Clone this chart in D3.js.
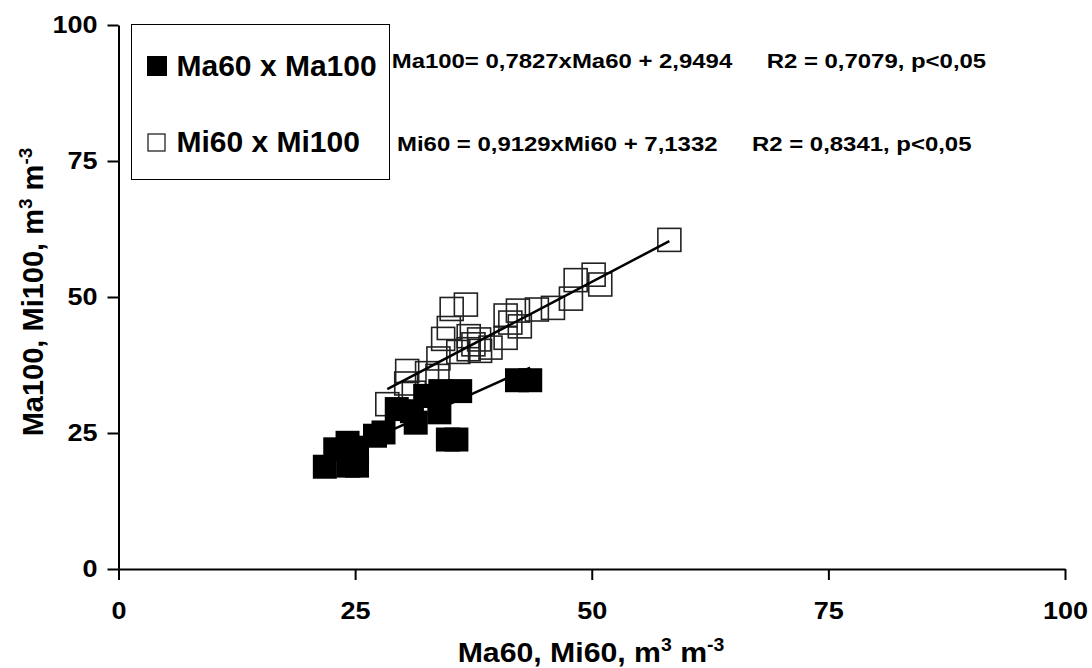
<!DOCTYPE html>
<html>
<head>
<meta charset="utf-8">
<script src="https://cdn.jsdelivr.net/npm/d3@7"></script>
<style>
  body { margin: 0; background: #fff; }
  svg text { font-family: "Liberation Sans", Arial, sans-serif; font-weight: bold; fill: #000; }
</style>
</head>
<body>
<div id="chart"></div>
<script>
// Ma60 x Ma100 (filled squares)
var ma60  = [21.8, 22.9, 24.2, 24.3, 24.8, 25.2, 25.2, 27.1, 28.0, 29.4, 31.0, 31.4, 32.4, 33.9, 34.0, 36.1, 34.8, 35.7, 42.1, 43.5];
var ma100 = [18.8, 22.0, 23.2, 19.0, 22.3, 21.4, 19.0, 24.5, 25.1, 29.4, 29.0, 26.9, 31.8, 28.8, 32.7, 32.7, 23.8, 23.8, 34.7, 34.7];

// Mi60 x Mi100 (open squares)
var mi60  = [58.2, 50.2, 48.3, 50.9, 47.8, 45.9, 44.2, 42.2, 42.4, 40.9, 41.4, 36.7, 35.2, 34.9, 34.3, 37.0, 38.1, 39.3, 40.9, 37.0, 35.9, 38.2, 33.8, 37.5, 30.5, 32.6, 30.4, 33.7, 28.4, 31.2];
var mi100 = [60.5, 54.1, 53.1, 52.3, 49.7, 48.0, 47.7, 47.5, 44.6, 46.6, 45.3, 48.6, 47.8, 44.3, 42.3, 42.8, 42.2, 40.7, 42.5, 40.4, 39.9, 40.1, 38.7, 41.3, 36.4, 36.0, 34.1, 35.5, 30.3, 32.4];

// regression coefficients [slope, intercept]
var maFit = [0.7827, 2.9494];
var miFit = [0.9129, 7.1332];

var xTicks = [0, 25, 50, 75, 100];
var yTicks = [0, 25, 50, 75, 100];

var legendLabels = ["Ma60 x Ma100", "Mi60 x Mi100"];
var eqLabels = ["Ma100= 0,7827xMa60 + 2,9494", "Mi60 = 0,9129xMi60 + 7,1332"];
var r2Labels = ["R2 = 0,7079, p<0,05", "R2 = 0,8341, p<0,05"];

var W = 1092, H = 668;

var svg = d3.select("#chart").append("svg")
    .attr("width", W)
    .attr("height", H);

var xScale = d3.scaleLinear().domain([0, 100]).range([118.5, 1065]);
var yScale = d3.scaleLinear().domain([0, 100]).range([569, 25]);

var xAxis = d3.axisBottom(xScale).tickValues(xTicks).tickSize(11).tickSizeOuter(0).tickPadding(22);
var yAxis = d3.axisLeft(yScale).tickValues(yTicks).tickSize(11).tickSizeOuter(0).tickPadding(10);

var gx = svg.append("g")
    .attr("transform", "translate(0," + yScale(0) + ")")
    .call(xAxis);
gx.selectAll("text")
    .style("font-size", "23.5px")
    .attr("transform", "scale(1.15,1)");

var gy = svg.append("g")
    .attr("transform", "translate(" + xScale(0) + ",0)")
    .call(yAxis);
gy.selectAll("text")
    .style("font-size", "23.5px")
    .attr("x", -21 / 1.15)
    .attr("transform", "scale(1.15,1)");

svg.selectAll(".domain, .tick line")
    .attr("stroke", "#000")
    .attr("stroke-width", 2);

// axis titles
var xt = svg.append("text")
    .attr("transform", "translate(591,662) scale(1.08,1)")
    .attr("text-anchor", "middle")
    .style("font-size", "28px");
xt.append("tspan").text("Ma60, Mi60, m");
xt.append("tspan").attr("dy", -11).style("font-size", "18px").text("3");
xt.append("tspan").attr("dy", 11).text(" m");
xt.append("tspan").attr("dy", -11).style("font-size", "18px").text("-3");

var yt = svg.append("text")
    .attr("transform", "translate(43,292) rotate(-90)")
    .attr("text-anchor", "middle")
    .style("font-size", "29px");
yt.append("tspan").text("Ma100, Mi100, m");
yt.append("tspan").attr("dy", -11).style("font-size", "19px").text("3");
yt.append("tspan").attr("dy", 11).text(" m");
yt.append("tspan").attr("dy", -11).style("font-size", "19px").text("-3");

var maData = ma60.map(function (d, i) { return {x: d, y: ma100[i]}; });
var miData = mi60.map(function (d, i) { return {x: d, y: mi100[i]}; });

var s = 23;

// open squares first, filled ones on top
svg.append("g").selectAll("rect")
    .data(miData)
    .enter().append("rect")
    .attr("x", function (d) { return xScale(d.x) - s / 2; })
    .attr("y", function (d) { return yScale(d.y) - s / 2; })
    .attr("width", s)
    .attr("height", s)
    .attr("fill", "none")
    .attr("stroke", "#222")
    .attr("stroke-width", 1.6);

svg.append("g").selectAll("rect")
    .data(maData)
    .enter().append("rect")
    .attr("x", function (d) { return xScale(d.x) - 12; })
    .attr("y", function (d) { return yScale(d.y) - 12; })
    .attr("width", 24)
    .attr("height", 24)
    .attr("fill", "#000");

// trend lines over the data range
function fitLine(xs, fit) {
    var ext = d3.extent(xs);
    return ext.map(function (x) { return [xScale(x), yScale(fit[0] * x + fit[1])]; });
}

svg.append("path")
    .attr("d", d3.line()(fitLine(ma60, maFit)))
    .attr("stroke", "#000")
    .attr("stroke-width", 2.5)
    .attr("fill", "none");

svg.append("path")
    .attr("d", d3.line()(fitLine(mi60, miFit)))
    .attr("stroke", "#000")
    .attr("stroke-width", 2.5)
    .attr("fill", "none");

// legend
var lg = svg.append("g");
lg.append("rect")
    .attr("x", 131.5).attr("y", 24.5)
    .attr("width", 258).attr("height", 155)
    .attr("fill", "#fff")
    .attr("stroke", "#000")
    .attr("stroke-width", 1);
lg.append("rect")
    .attr("x", 147).attr("y", 56)
    .attr("width", 20).attr("height", 20)
    .attr("fill", "#000");
lg.append("rect")
    .attr("x", 148).attr("y", 134)
    .attr("width", 17).attr("height", 17)
    .attr("fill", "#fff")
    .attr("stroke", "#222")
    .attr("stroke-width", 1.3);
lg.selectAll("text.leg")
    .data(legendLabels)
    .enter().append("text")
    .attr("class", "leg")
    .attr("x", 176.5)
    .attr("y", function (d, i) { return i === 0 ? 76 : 152; })
    .style("font-size", "30px")
    .text(function (d) { return d; });

// equations
var eqX = [391.7, 397], r2X = [766.7, 752], eqY = [68, 151];
svg.selectAll("text.eq")
    .data(eqLabels)
    .enter().append("text")
    .attr("class", "eq")
    .attr("transform", function (d, i) { return "translate(" + eqX[i] + "," + eqY[i] + ") scale(1.14,1)"; })
    .style("font-size", "21px")
    .text(function (d) { return d; });
svg.selectAll("text.r2")
    .data(r2Labels)
    .enter().append("text")
    .attr("class", "r2")
    .attr("transform", function (d, i) { return "translate(" + r2X[i] + "," + eqY[i] + ") scale(1.14,1)"; })
    .style("font-size", "21px")
    .text(function (d) { return d; });
</script>
</body>
</html>
